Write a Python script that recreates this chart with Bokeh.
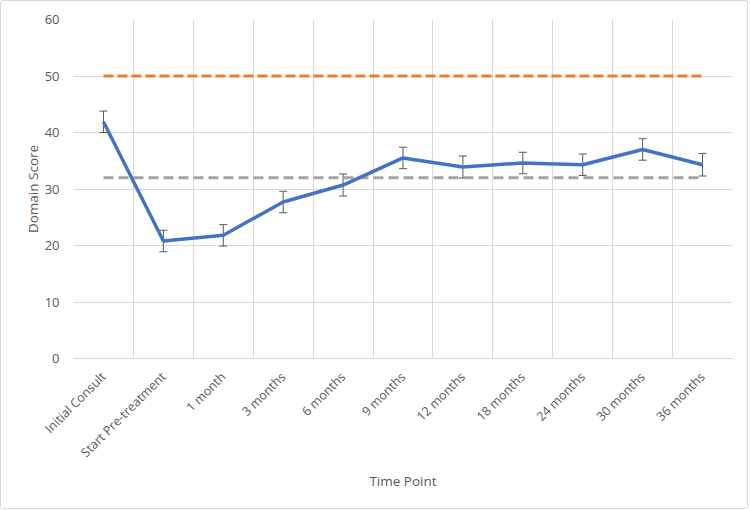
from bokeh.plotting import figure
from bokeh.models import ColumnDataSource, FixedTicker, Whisker, TeeHead, Range1d
from bokeh.embed import file_html
from bokeh.resources import INLINE

categories = ["Initial Consult", "Start Pre-treatment", "1 month", "3 months", "6 months",
              "9 months", "12 months", "18 months", "24 months", "30 months", "36 months"]
scores = [41.9, 20.8, 21.8, 27.7, 30.7, 35.5, 33.9, 34.6, 34.3, 37.0, 34.3]
errors = [1.9, 1.9, 1.9, 1.9, 1.95, 1.9, 1.95, 1.9, 1.9, 1.9, 2.0]
reference_high = 50
reference_low = 32
y_ticks = [0, 10, 20, 30, 40, 50, 60]

xs = [i + 0.5 for i in range(len(categories))]
src = ColumnDataSource(dict(
    x=xs, y=scores,
    upper=[s + e for s, e in zip(scores, errors)],
    lower=[s - e for s, e in zip(scores, errors)],
    hi=[reference_high] * len(xs),
    lo=[reference_low] * len(xs),
))

FONT = "Open Sans"
p = figure(width=748, height=509, output_backend="svg", toolbar_location=None,
           x_range=Range1d(0, len(categories)), y_range=Range1d(0, 60),
           min_border_left=72, min_border_right=17, min_border_top=18, min_border_bottom=152,
           styles={"border": "1px solid #d9d9d9", "border-radius": "3px"})
p.background_fill_color = "white"
p.border_fill_color = "white"
p.outline_line_color = None

p.line("x", "hi", source=src, line_color="#ED7D31", line_width=3, line_dash="10 4")
p.line("x", "lo", source=src, line_color="#A5A5A5", line_width=3, line_dash="10 5")
p.line("x", "y", source=src, line_color="#4472C4", line_width=3.5)
w = Whisker(base="x", upper="upper", lower="lower", source=src,
            line_color="#595959", line_width=1,
            upper_head=TeeHead(size=8, line_color="#595959", line_width=1),
            lower_head=TeeHead(size=8, line_color="#595959", line_width=1))
p.add_layout(w)

p.xaxis.ticker = FixedTicker(ticks=xs)
p.xaxis.major_label_overrides = {x: c for x, c in zip(xs, categories)}
p.xaxis.major_label_orientation = 0.785398
p.yaxis.ticker = FixedTicker(ticks=y_ticks)
p.xgrid.ticker = FixedTicker(ticks=list(range(len(categories) + 1)))
p.xgrid.grid_line_color = "#d9d9d9"
p.ygrid.grid_line_color = "#d9d9d9"

for ax in (p.xaxis[0], p.yaxis[0]):
    ax.major_tick_line_color = None
    ax.minor_tick_line_color = None
    ax.major_label_text_font = FONT
    ax.major_label_text_font_size = "12.5px"
    ax.major_label_text_color = "#595959"
    ax.axis_label_text_font = FONT
    ax.axis_label_text_font_size = "13.5px"
    ax.axis_label_text_color = "#595959"
    ax.axis_label_text_font_style = "normal"

p.yaxis.major_label_text_font_size = "13px"
p.xaxis.axis_line_color = "#d9d9d9"
p.yaxis.axis_line_color = None
p.xaxis.major_label_standoff = 10
p.yaxis.major_label_standoff = 8
p.xaxis.axis_label = "Time Point"
p.yaxis.axis_label = "Domain Score"
p.xaxis.axis_label_standoff = 2
p.yaxis.axis_label_standoff = 0

open("out.html", "w").write(file_html(p, INLINE))
